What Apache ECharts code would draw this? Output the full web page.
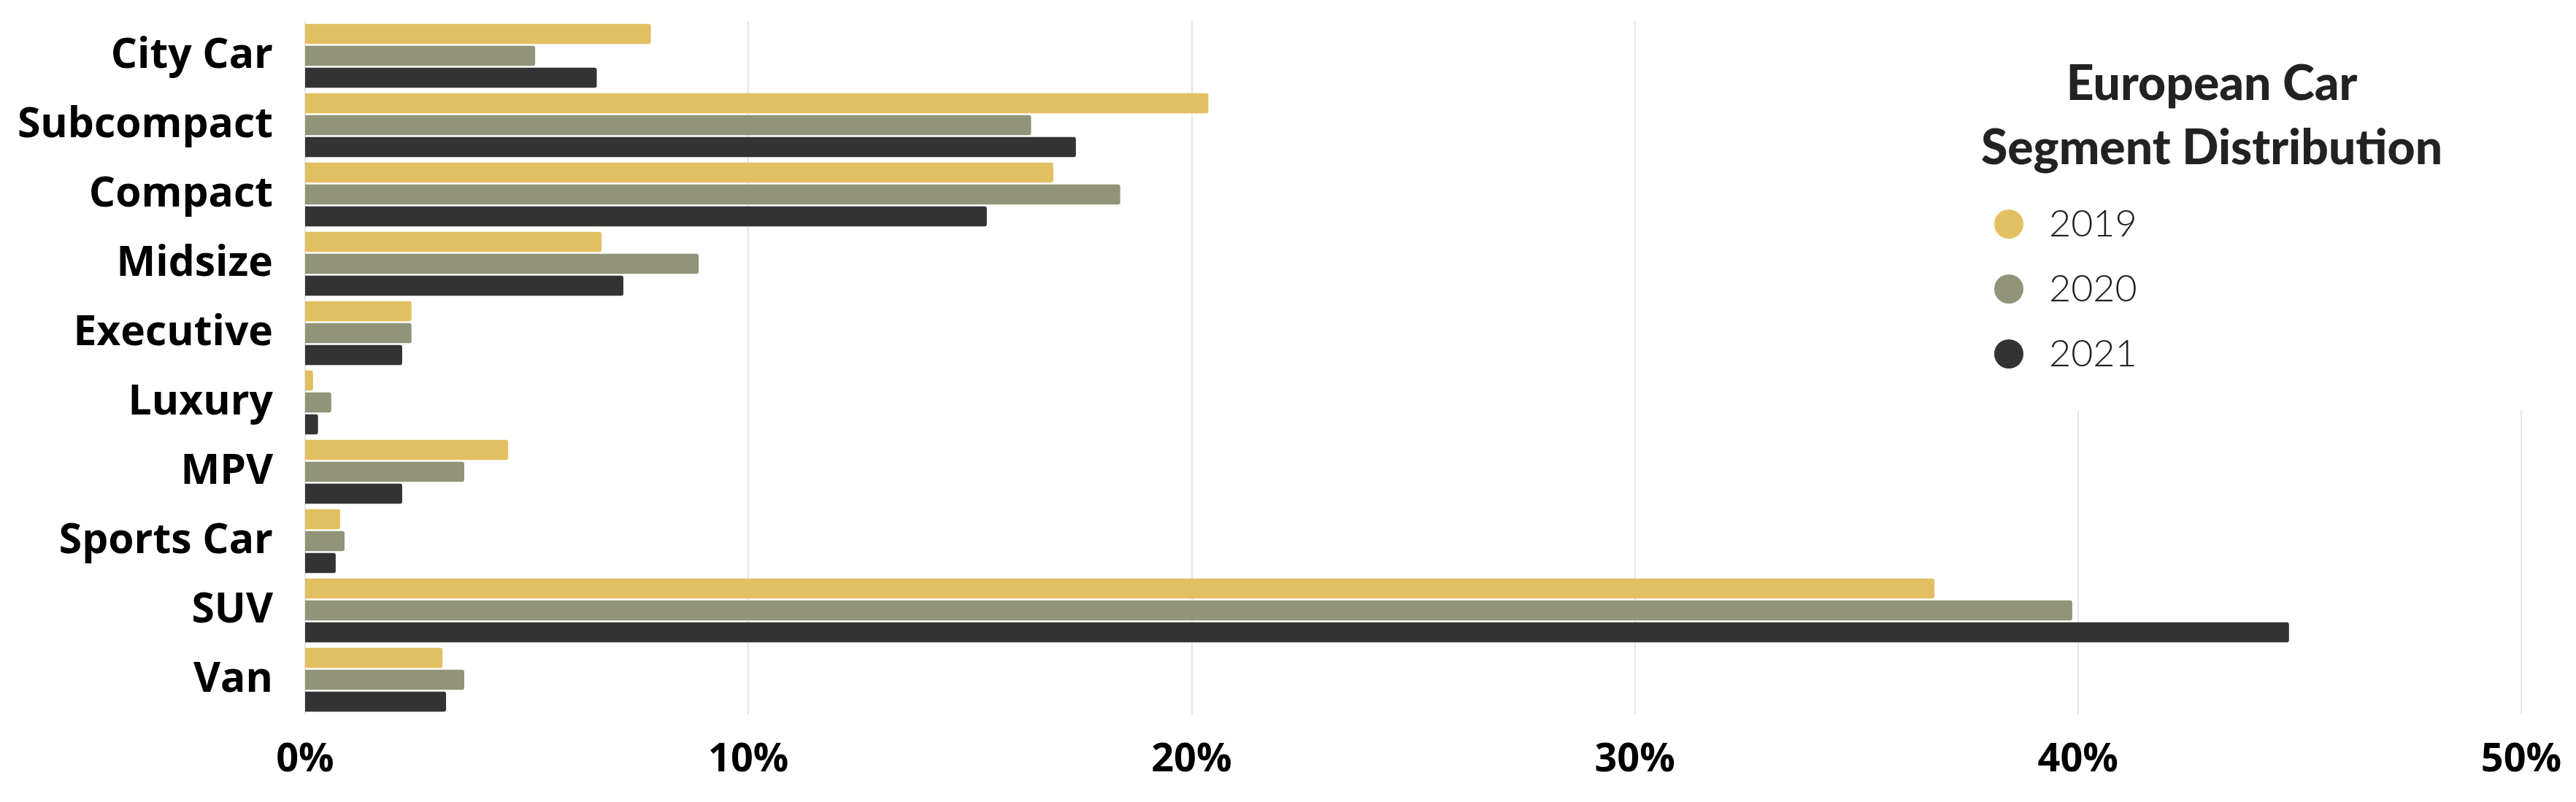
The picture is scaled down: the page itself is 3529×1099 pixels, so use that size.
<!DOCTYPE html>
<html>
<head>
<meta charset="utf-8">
<script src="https://cdn.jsdelivr.net/npm/echarts@6/dist/echarts.min.js"></script>
<style>
html,body{margin:0;padding:0;background:#fff;}
#chart{width:3529px;height:1099px;}
</style>
</head>
<body>
<div id="chart"></div>
<script>
const categories = ['City Car','Subcompact','Compact','Midsize','Executive','Luxury','MPV','Sports Car','SUV','Van'];
const years = ['2019','2020','2021'];
const values2019 = [7.8, 20.38, 16.88, 6.69, 2.40, 0.18, 4.58, 0.79, 36.76, 3.10];
const values2020 = [5.19, 16.38, 18.39, 8.88, 2.40, 0.59, 3.59, 0.89, 39.87, 3.59];
const values2021 = [6.58, 17.39, 15.38, 7.18, 2.19, 0.29, 2.19, 0.69, 44.76, 3.18];
const xTicks = [0, 10, 20, 30, 40, 50];
const titleText = 'European Car\nSegment Distribution';
const colors = ['#E2C062', '#919478', '#333333'];

const chart = echarts.init(document.getElementById('chart'), null, {renderer:'canvas'});
const seriesData = [values2019, values2020, values2021];
const option = {
  animation: false,
  backgroundColor: '#ffffff',
  color: colors,
  grid: {left: 418, right: 75, top: 29, bottom: 120, containLabel: false},
  xAxis: {
    type: 'value',
    min: xTicks[0], max: xTicks[xTicks.length-1], interval: 10,
    axisLine: {show: false},
    axisTick: {show: false},
    splitLine: {show: true, lineStyle: {color: '#e6e6e6', width: 2}},
    axisLabel: {
      formatter: '{value}%',
      margin: 36,
      color: '#000',
      fontFamily: 'Open Sans',
      fontWeight: 'bold',
      fontSize: 54
    }
  },
  yAxis: {
    type: 'category',
    data: categories,
    inverse: true,
    axisLine: {show: false},
    axisTick: {show: false},
    splitLine: {show: false},
    axisLabel: {
      margin: 44,
      color: '#000',
      fontFamily: 'Open Sans',
      fontWeight: 'bold',
      fontSize: 57
    }
  },
  legend: {
    orient: 'vertical',
    left: 2727,
    top: 276,
    z: 20,
    icon: 'circle',
    itemWidth: 40,
    itemHeight: 40,
    itemGap: 37,
    data: years,
    textStyle: {
      color: '#222',
      fontFamily: 'Lato',
      fontWeight: 300,
      fontSize: 52,
      lineHeight: 50,
      padding: [0, 0, 0, 30]
    }
  },
  graphic: [
    {
      type: 'rect', z: 3, silent: true,
      shape: {x: 2660, y: 0, width: 869, height: 562},
      style: {fill: '#ffffff'}
    },
    {
      type: 'text', z: 100, silent: true,
      style: {
        text: titleText,
        x: 3030, y: 160,
        textAlign: 'center',
        textVerticalAlign: 'middle',
        fill: '#222',
        font: '900 66px Lato',
        lineHeight: 88
      }
    }
  ],
  series: years.map((y, i) => ({
    name: y,
    type: 'bar',
    data: seriesData[i],
    barWidth: 27.5,
    barGap: '9%',
    itemStyle: {color: colors[i], borderRadius: [0, 3, 3, 0]}
  }))
};
chart.setOption(option);
</script>
</body>
</html>
